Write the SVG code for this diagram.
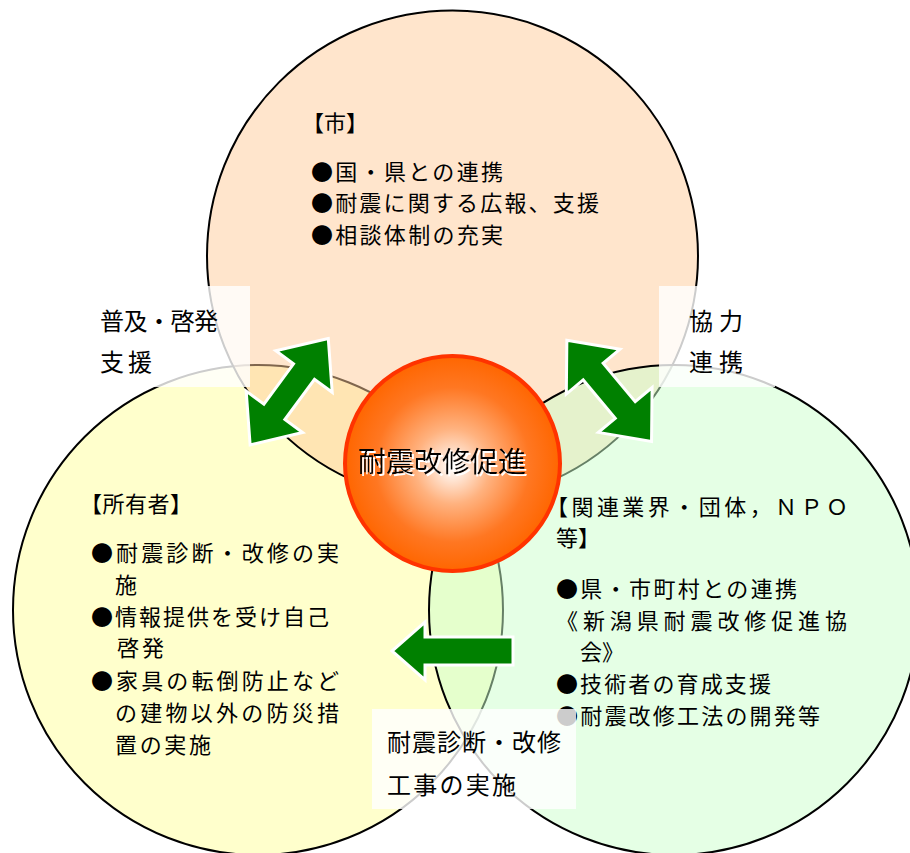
<svg xmlns="http://www.w3.org/2000/svg" width="910" height="853" viewBox="0 0 910 853">
<defs>
<radialGradient id="ball" cx="50%" cy="50%" r="50%" fx="50%" fy="52%">
<stop offset="0" stop-color="#FFFFFF"/>
<stop offset="0.35" stop-color="#FFB27F"/>
<stop offset="0.72" stop-color="#FF7722"/>
<stop offset="1" stop-color="#FF6600"/>
</radialGradient>
<filter id="sh" x="-10%" y="-30%" width="120%" height="160%">
<feDropShadow dx="2" dy="2" stdDeviation="0" flood-color="#FFFFFF" flood-opacity="1"/>
</filter>
</defs>
<style>
.ring{stroke:#000;stroke-width:2;fill-opacity:0.5}
.t{font-family:"Noto Sans CJK JP","Noto Sans CJK SC",sans-serif;font-size:22px;fill:#000}
.lbl{font-family:"Noto Sans CJK JP","Noto Sans CJK SC",sans-serif;font-size:24px;fill:#000}
.box{fill:#FFFFFF;fill-opacity:0.8}
.arrow{fill:#008000;stroke:#FFFFFF;stroke-width:3;stroke-linejoin:miter}
</style>
<rect width="910" height="853" fill="#FFFFFF"/>

<g id="owner">
<circle class="ring" cx="258" cy="610" r="245" fill="#FFFF99"/>
</g>
<g id="city">
<circle class="ring" cx="452.5" cy="256" r="245.5" fill="#FFCC99"/>
</g>
<g id="industry">
<circle class="ring" cx="674" cy="610" r="245" fill="#CCFFCC"/>
</g>

<g id="city-text">
<text class="t" x="302" y="131">【市】</text>
<text class="t" x="311" y="180" textLength="192" lengthAdjust="spacing">●国・県との連携</text>
<text class="t" x="311" y="211" textLength="288" lengthAdjust="spacing">●耐震に関する広報、支援</text>
<text class="t" x="311" y="243" textLength="192" lengthAdjust="spacing">●相談体制の充実</text>
</g>

<g id="owner-text">
<text class="t" x="80" y="512" letter-spacing="0.5">【所有者】</text>
<text class="t" x="91" y="561" textLength="248" lengthAdjust="spacing">●耐震診断・改修の実</text>
<text class="t" x="115" y="593">施</text>
<text class="t" x="91" y="625" textLength="238" lengthAdjust="spacing">●情報提供を受け自己</text>
<text class="t" x="117" y="656" textLength="47" lengthAdjust="spacing">啓発</text>
<text class="t" x="91" y="689" textLength="248" lengthAdjust="spacing">●家具の転倒防止など</text>
<text class="t" x="115" y="721" textLength="224" lengthAdjust="spacing">の建物以外の防災措</text>
<text class="t" x="115" y="753" textLength="96" lengthAdjust="spacing">置の実施</text>
</g>

<g id="industry-text">
<text class="t" x="546" y="515" textLength="302" lengthAdjust="spacing">【関連業界・団体，ＮＰＯ</text>
<text class="t" x="556" y="546">等】</text>
<text class="t" x="556" y="597" textLength="241" lengthAdjust="spacing">●県・市町村との連携</text>
<text class="t" x="556" y="629" textLength="291" lengthAdjust="spacing">《新潟県耐震改修促進協</text>
<text class="t" x="580" y="660">会》</text>
<text class="t" x="556" y="692" textLength="215" lengthAdjust="spacing">●技術者の育成支援</text>
<text class="t" x="556" y="724" textLength="264" lengthAdjust="spacing">●耐震改修工法の開発等</text>
</g>

<g id="label-spread">
<rect class="box" x="90" y="286" width="160" height="101"/>
<text class="lbl" x="100" y="330" textLength="118" lengthAdjust="spacing">普及・啓発</text>
<text class="lbl" x="100" y="371" textLength="52" lengthAdjust="spacing">支援</text>
</g>
<g id="label-coop">
<rect class="box" x="659" y="286" width="116" height="101"/>
<text class="lbl" x="689" y="330" textLength="54" lengthAdjust="spacing">協力</text>
<text class="lbl" x="689" y="371" textLength="54" lengthAdjust="spacing">連携</text>
</g>
<g id="label-work">
<rect class="box" x="372" y="709" width="204" height="100"/>
<text class="lbl" x="387" y="751" textLength="174" lengthAdjust="spacing">耐震診断・改修</text>
<text class="lbl" x="387" y="794" textLength="129" lengthAdjust="spacing">工事の実施</text>
</g>

<g id="connectors">
<path class="arrow" transform="translate(289.2,391.7) rotate(-53.7)" d="M66,0 L25,-35 L25,-13 L-25,-13 L-25,-35 L-66,0 L-25,35 L-25,13 L25,13 L25,35 Z"/>
<path class="arrow" transform="translate(609.2,390.8) rotate(50.1)" d="M66,0 L25,-35 L25,-13 L-25,-13 L-25,-35 L-66,0 L-25,35 L-25,13 L25,13 L25,35 Z"/>
<path class="arrow" d="M392,651 L425,622 L425,637 L513,637 L513,665 L425,665 L425,680 Z"/>
</g>

<g id="center">
<circle cx="452.5" cy="463.5" r="107.5" fill="url(#ball)" stroke="#FF3300" stroke-width="4"/>
<text x="358" y="472" textLength="168" lengthAdjust="spacing" filter="url(#sh)" style="font-family:'Noto Sans CJK JP','Noto Sans CJK SC',sans-serif;font-size:28px;fill:#000000">耐震改修促進</text>
</g>
</svg>
